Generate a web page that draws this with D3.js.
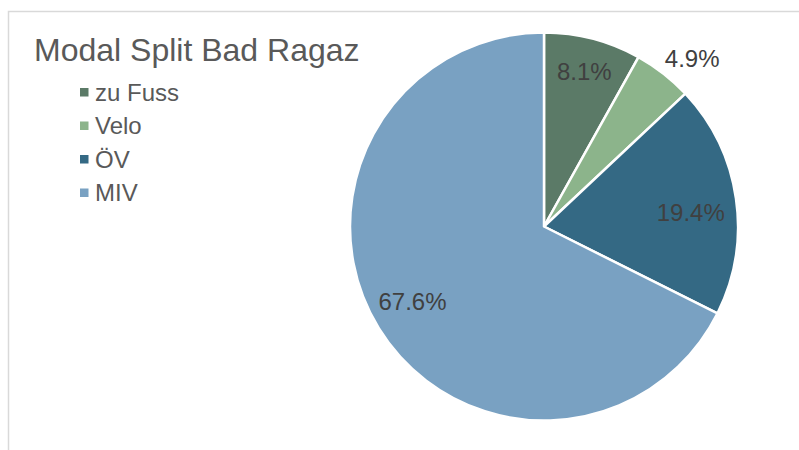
<!DOCTYPE html>
<html>
<head>
<meta charset="utf-8">
<script src="https://cdn.jsdelivr.net/npm/d3@7"></script>
<style>
  body { margin: 0; background: #fff; }
  svg { display: block; font-family: "Liberation Sans", Arial, sans-serif; }
</style>
</head>
<body>
<svg width="799" height="450"></svg>
<script>
const categories = ["zu Fuss", "Velo", "ÖV", "MIV"];
const values = [8.1, 4.9, 19.4, 67.6];
const colors = ["#5b7a67", "#8cb48b", "#346984", "#79a1c2"];
// label placement (fraction of radius, angle nudge in degrees) - Excel "best fit"
const labelRadius = [0.825, 1.155, 0.76, 0.78];
const labelShift = [0, 3.4, 2.6, 2];

const svg = d3.select("svg"),
    width = +svg.attr("width"),
    height = +svg.attr("height");

// chart area frame (cropped at right and bottom)
svg.append("path")
    .attr("d", `M 8.5 ${height} V 11.5 H ${width}`)
    .attr("fill", "none")
    .attr("stroke", "#d9d9d9")
    .attr("stroke-width", 1.5);

svg.append("text")
    .attr("x", 34)
    .attr("y", 61)
    .attr("font-size", 32)
    .attr("fill", "#595959")
    .text("Modal Split Bad Ragaz");

// legend
const legend = svg.append("g").attr("transform", "translate(80,92)");
const item = legend.selectAll("g")
    .data(categories)
    .enter().append("g")
    .attr("transform", (d, i) => `translate(0,${i * 33.5})`);

item.append("rect")
    .attr("x", 0).attr("y", -4)
    .attr("width", 8.5).attr("height", 8.5)
    .attr("fill", (d, i) => colors[i]);

item.append("text")
    .attr("x", 15)
    .attr("dy", "0.36em")
    .attr("font-size", 24)
    .attr("fill", "#595959")
    .text(d => d);

// pie
const cx = 544, cy = 226.5, r = 194;
const pie = d3.pie().sort(null).value(d => d)(values);
const arc = d3.arc().innerRadius(0).outerRadius(r);

const g = svg.append("g").attr("transform", `translate(${cx},${cy})`);

g.selectAll("path.slice")
    .data(pie)
    .enter().append("path")
    .attr("class", "slice")
    .attr("d", arc)
    .attr("fill", (d, i) => colors[i])
    .attr("stroke", "#fff")
    .attr("stroke-width", 2.5)
    .attr("stroke-linejoin", "round");

g.selectAll("text.lbl")
    .data(pie)
    .enter().append("text")
    .attr("class", "lbl")
    .attr("transform", (d, i) => {
        const a = (d.startAngle + d.endAngle) / 2 + labelShift[i] * Math.PI / 180;
        const rr = r * labelRadius[i];
        return `translate(${Math.sin(a) * rr},${-Math.cos(a) * rr})`;
    })
    .attr("text-anchor", "middle")
    .attr("dy", "0.36em")
    .attr("font-size", 24)
    .attr("fill", "#404040")
    .text(d => d.data.toFixed(1) + "%");
</script>
</body>
</html>
